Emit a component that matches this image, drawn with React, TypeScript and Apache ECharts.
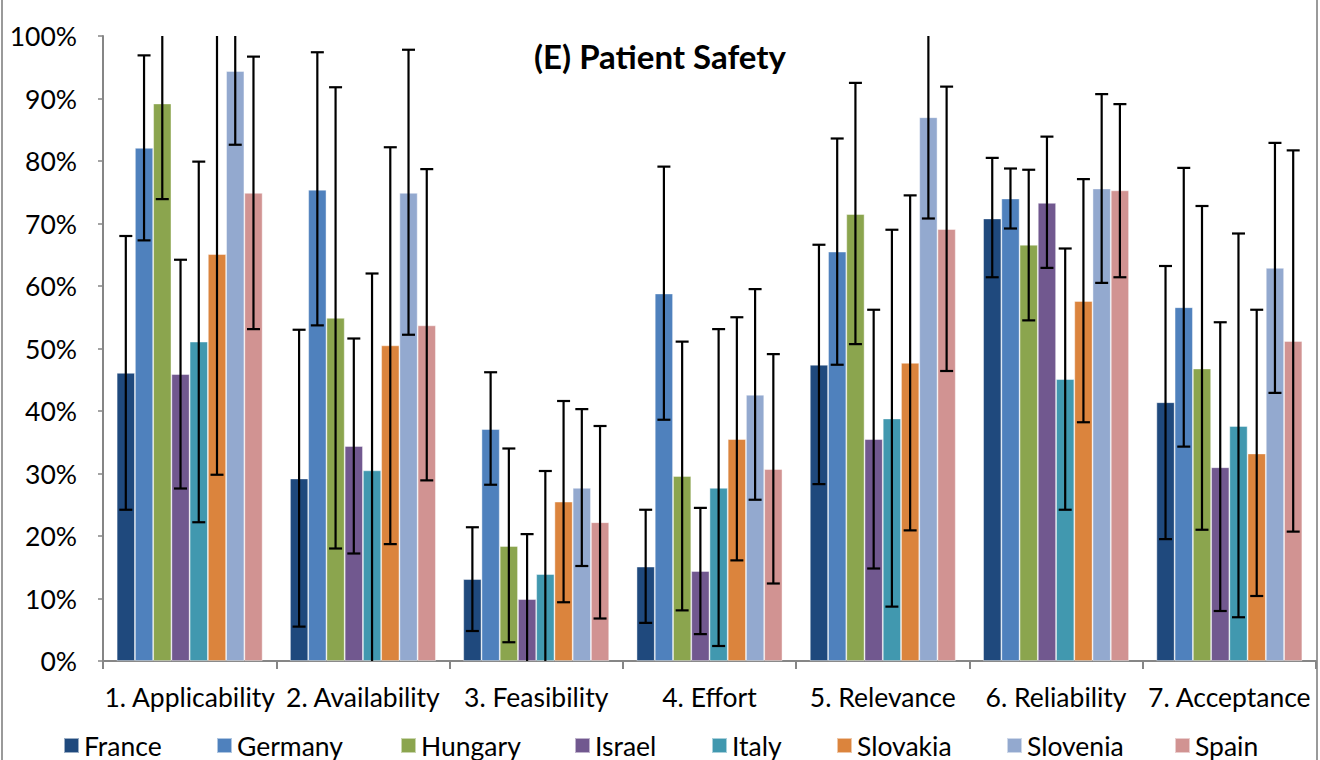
import React, { useEffect, useRef } from "react";
import * as echarts from "echarts";

const categories = ["1. Applicability", "2. Availability", "3. Feasibility", "4. Effort", "5. Relevance", "6. Reliability", "7. Acceptance"];
const countries = ["France", "Germany", "Hungary", "Israel", "Italy", "Slovakia", "Slovenia", "Spain"];
const colors = ["#1F497D", "#4F81BD", "#8BA54E", "#71588F", "#4198AF", "#DB843D", "#93A9CF", "#D19392"];

const france = [46.1, 29.2, 13.1, 15.1, 47.4, 70.8, 41.4];
const franceLow = [24.2, 5.5, 4.8, 6.1, 28.3, 61.4, 19.5];
const franceHigh = [68.0, 53.0, 21.4, 24.2, 66.6, 80.5, 63.2];

const germany = [82.1, 75.4, 37.1, 58.8, 65.5, 74.0, 56.6];
const germanyLow = [67.3, 53.7, 28.2, 38.6, 47.4, 69.2, 34.3];
const germanyHigh = [96.9, 97.4, 46.2, 79.1, 83.6, 78.8, 78.9];

const hungary = [89.2, 54.9, 18.4, 29.6, 71.5, 66.6, 46.8];
const hungaryLow = [73.9, 18.0, 3.0, 8.1, 50.7, 54.5, 21.0];
const hungaryHigh = [104.5, 91.8, 34.0, 51.1, 92.5, 78.6, 72.8];

const israel = [45.9, 34.4, 9.9, 14.4, 35.5, 73.3, 31.0];
const israelLow = [27.6, 17.2, -0.5, 4.3, 14.8, 62.9, 8.0];
const israelHigh = [64.2, 51.6, 20.3, 24.5, 56.2, 83.9, 54.2];

const italy = [51.1, 30.5, 13.9, 27.7, 38.8, 45.1, 37.6];
const italyLow = [22.2, -1.0, -2.6, 2.4, 8.7, 24.2, 7.0];
const italyHigh = [79.9, 62.0, 30.4, 53.1, 69.0, 66.0, 68.4];

const slovakia = [65.1, 50.5, 25.5, 35.5, 47.7, 57.6, 33.2];
const slovakiaLow = [29.8, 18.7, 9.4, 16.1, 20.9, 38.2, 10.4];
const slovakiaHigh = [100.4, 82.2, 41.6, 55.0, 74.5, 77.1, 56.2];

const slovenia = [94.4, 74.9, 27.7, 42.6, 87.0, 75.6, 62.9];
const sloveniaLow = [82.6, 52.2, 15.2, 25.8, 70.8, 60.5, 42.9];
const sloveniaHigh = [106.2, 97.8, 40.3, 59.5, 103.2, 90.7, 82.9];

const spain = [74.9, 53.7, 22.2, 30.7, 69.1, 75.3, 51.2];
const spainLow = [53.1, 28.9, 6.8, 12.4, 46.4, 61.4, 20.7];
const spainHigh = [96.7, 78.7, 37.6, 49.1, 91.9, 89.1, 81.7];

const yTicks = [0, 10, 20, 30, 40, 50, 60, 70, 80, 90, 100];

const values = [france, germany, hungary, israel, italy, slovakia, slovenia, spain];
const lows = [franceLow, germanyLow, hungaryLow, israelLow, italyLow, slovakiaLow, sloveniaLow, spainLow];
const highs = [franceHigh, germanyHigh, hungaryHigh, israelHigh, italyHigh, slovakiaHigh, sloveniaHigh, spainHigh];

const legendLefts = [63, 216, 400, 574, 711, 836, 1006, 1174];
const CAT_GAP = 0.158;
const FONT = "Lato, 'Open Sans', sans-serif";
const FS = 26.5;

export default function App() {
  const ref = useRef<HTMLDivElement>(null);
  useEffect(() => {
    if (!ref.current) return;
    const chart = echarts.init(ref.current, undefined, { renderer: "svg" });
    const n = countries.length;
    const barSeries = countries.map((name, i) => ({
      name,
      type: "bar",
      data: values[i],
      barGap: "0%",
      barCategoryGap: CAT_GAP * 100 + "%",
      itemStyle: { color: colors[i], borderColor: "rgba(255,255,255,0.55)", borderWidth: 0.8 },
      z: 2,
    }));
    const errSeries = countries.map((name, i) => ({
      name: name + " error",
      type: "custom",
      clip: true,
      z: 5,
      data: categories.map((_, k) => [k, lows[i][k], highs[i][k]]),
      encode: { x: 0, y: [1, 2] },
      renderItem: (params: any, api: any) => {
        const k = api.value(0);
        const band = api.size([1, 0])[0];
        const bw = (band * (1 - CAT_GAP)) / n;
        const cx = api.coord([k, 0])[0] + (i - (n - 1) / 2) * bw;
        const yl = api.coord([k, api.value(1)])[1];
        const yh = api.coord([k, api.value(2)])[1];
        const cap = 6.5;
        const st = { stroke: "#000", lineWidth: 2.2 };
        return {
          type: "group",
          children: [
            { type: "line", shape: { x1: cx, y1: yl, x2: cx, y2: yh }, style: st },
            { type: "line", shape: { x1: cx - cap, y1: yl, x2: cx + cap, y2: yl }, style: st },
            { type: "line", shape: { x1: cx - cap, y1: yh, x2: cx + cap, y2: yh }, style: st },
          ],
        };
      },
    }));
    chart.setOption({
      animation: false,
      textStyle: { fontFamily: FONT },
      title: {
        text: "(E) Patient Safety",
        left: "center",
        top: 34,
        textStyle: { fontFamily: FONT, fontSize: 33, fontWeight: "bold", color: "#000" },
      },
      legend: countries.map((name, i) => ({
        data: [name],
        left: legendLefts[i],
        top: 732,
        padding: 0,
        icon: "rect",
        itemWidth: 15,
        itemHeight: 15,
        textStyle: { fontFamily: FONT, fontSize: FS, color: "#000" },
      })),
      grid: { left: 103, right: 4, top: 36, bottom: 99, containLabel: false },
      xAxis: {
        type: "category",
        data: categories,
        axisLine: { lineStyle: { color: "#868686", width: 2 } },
        axisTick: { show: true, length: 8, lineStyle: { color: "#868686", width: 2 } },
        axisLabel: { fontFamily: FONT, fontSize: FS, color: "#000", margin: 22, interval: 0 },
      },
      yAxis: {
        type: "value",
        min: yTicks[0],
        max: yTicks[yTicks.length - 1],
        interval: 10,
        axisLine: { show: true, lineStyle: { color: "#868686", width: 2 } },
        axisTick: { show: true, length: 5, lineStyle: { color: "#868686", width: 1.5 } },
        splitLine: { show: false },
        axisLabel: { fontFamily: FONT, fontSize: FS, color: "#000", margin: 26, formatter: "{value}%" },
      },
      graphic: [
        {
          type: "rect",
          shape: { x: 2, y: -10, width: 1315, height: 790 },
          style: { fill: "none", stroke: "#9A9A9A", lineWidth: 2 },
          silent: true,
        },
      ],
      series: [...barSeries, ...errSeries],
    });
    return () => chart.dispose();
  }, []);
  return <div ref={ref} style={{ position: "fixed", left: 0, top: 0, width: 1320, height: 760, background: "#fff" }} />;
}
